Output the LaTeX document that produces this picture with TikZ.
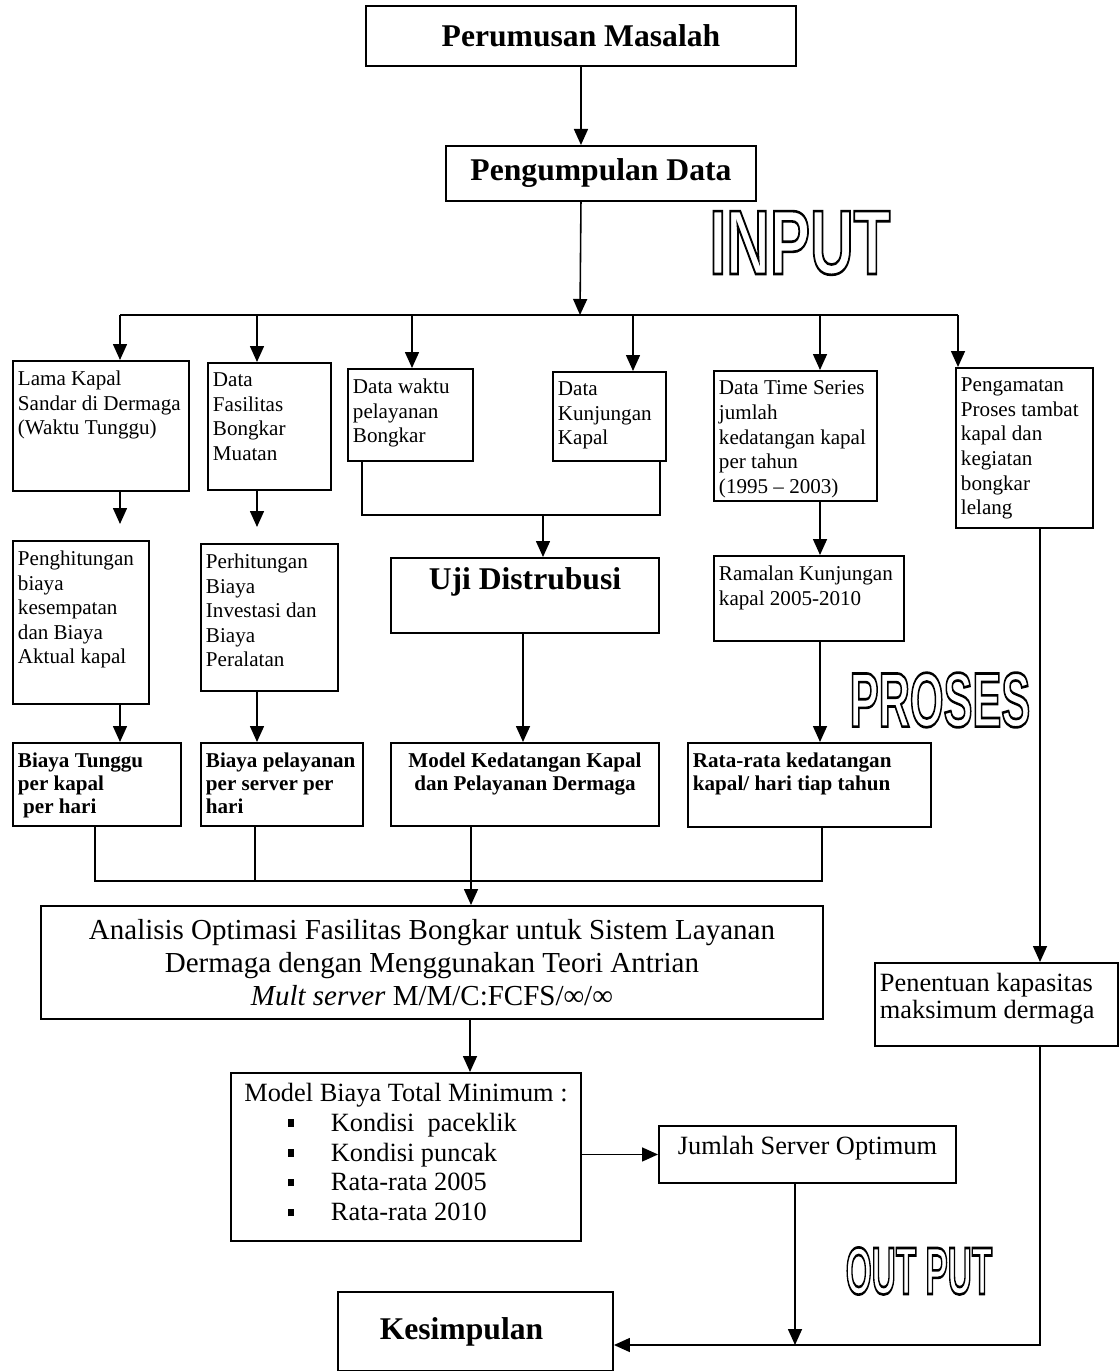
\documentclass[tikz,border=0pt]{standalone}
\usepackage{fontspec}
\setmainfont{Liberation Serif}
\newfontfamily\outfont{Liberation Sans}
\usetikzlibrary{arrows.meta}
\newdimen\pxu \pxu=0.02cm
\newcommand{\sqb}{\makebox[43\pxu][l]{\rule[2.5pt]{3.6pt}{4.2pt}}}
% hollow (stroked) lettering
\newcommand{\outword}[3]{\scalebox{#2}[1]{\fontsize{#1}{#1}\selectfont
    \special{pdf:literal direct q 1 Tr 1.5 w 0 G}#3\special{pdf:literal direct Q}}}

\begin{document}
\begin{tikzpicture}[x=0.02cm, y=-0.02cm,
    box/.style={draw, line width=1.1pt, anchor=north west, inner sep=0pt},
    cbox/.style n args={2}{box, minimum width=#1\pxu, minimum height=#2\pxu, align=center},
    panel/.style n args={3}{box, minimum width=#1\pxu, minimum height=#2\pxu,
        font=\fontsize{12}{14}\selectfont,
        execute at begin node={\begin{minipage}[t][\dimexpr#2\pxu-8\pxu\relax][t]{\dimexpr#1\pxu-10\pxu\relax}\vspace*{6\pxu}#3},
        execute at end node={\endgraf\end{minipage}}},
    tbox/.style 2 args={panel={#1}{#2}{\raggedright}},
    ctbox/.style 2 args={panel={#1}{#2}{\centering}},
    big/.style={font=\fontsize{18}{21}\selectfont\bfseries},
    arrow/.style={line width=0.9pt, -{Triangle[length=3.2mm,width=2.8mm]}},
    line/.style={line width=0.9pt},
    outtext/.style={font=\outfont\bfseries, inner sep=0pt}]
    \useasboundingbox (0,0) rectangle (1118,1371);

    % top
    \node[cbox={430}{60}, big] (per) at (365,5) {Perumusan Masalah};
    \node[cbox={310}{55}, big] (kumpul) at (445,145) {Pengumpulan Data};
    \node[outtext] (inlbl) at (800,243) {\outword{52}{0.66}{INPUT}};

    % data
    \node[tbox={176}{130}] (lama) at (12,360) {Lama Kapal\\Sandar di Dermaga\\(Waktu Tunggu)};
    \node[tbox={123}{127}] (fasil) at (207,362) {Data\\Fasilitas\\Bongkar\\Muatan};
    \node[tbox={125}{92}] (waktu) at (347,368) {Data waktu\\pelayanan\\Bongkar};
    \node[tbox={113}{89}] (kunjung) at (552,371) {Data\\Kunjungan\\Kapal};
    \node[tbox={163}{130}] (series) at (713,370) {Data Time Series\\jumlah\\kedatangan kapal\\per tahun\\(1995 -- 2003)};
    \node[tbox={137}{160}] (amat) at (955,367) {Pengamatan\\Proses tambat\\kapal dan\\kegiatan\\bongkar\\lelang};

    % proses
    \node[tbox={136}{163}] (hitung) at (12,540) {Penghitungan\\biaya\\kesempatan\\dan Biaya\\Aktual kapal};
    \node[tbox={137}{147}] (invest) at (200,543) {Perhitungan\\Biaya\\Investasi dan\\Biaya\\Peralatan};
    \node[ctbox={268}{75}, big] (uji) at (390,557) {Uji Distrubusi};
    \node[tbox={190}{85}] (ramal) at (713,555) {Ramalan Kunjungan\\kapal 2005-2010};
    \node[outtext] (proslbl) at (940,700) {\outword{44}{0.56}{PROSES}};

    \node[tbox={168}{83}, font=\fontsize{12}{13}\selectfont\bfseries] (tunggu) at (12,742) {Biaya Tunggu\\per kapal\\\ per hari};
    \node[tbox={162}{83}, font=\fontsize{12}{13}\selectfont\bfseries] (layan) at (200,742) {Biaya pelayanan\\per server per\\hari};
    \node[ctbox={268}{83}, font=\fontsize{12}{13}\selectfont\bfseries] (datang) at (390,742) {Model Kedatangan Kapal\\dan Pelayanan Dermaga};
    \node[tbox={243}{84}, font=\fontsize{12}{13}\selectfont\bfseries] (rata) at (687,742) {Rata-rata kedatangan\\kapal/ hari tiap tahun};

    \node[cbox={782}{113}, font=\fontsize{16.5}{18.8}\selectfont] (analisis) at (40,905)
        {Analisis Optimasi Fasilitas Bongkar untuk Sistem Layanan\\
         Dermaga dengan Menggunakan Teori Antrian\\
         \textit{Mult server} M/M/C:FCFS/∞/∞};
    \node[tbox={243}{83}, font=\fontsize{15}{15.5}\selectfont] (kapasitas) at (874,962) {Penentuan kapasitas\\maksimum dermaga};

    % output
    \node[tbox={350}{168}, font=\fontsize{15}{17}\selectfont] (biaya) at (230,1072)
        {{\centering Model Biaya Total Minimum :\par}
         \hspace*{52\pxu}\sqb Kondisi\ \ paceklik\\
         \hspace*{52\pxu}\sqb Kondisi puncak\\
         \hspace*{52\pxu}\sqb Rata-rata 2005\\
         \hspace*{52\pxu}\sqb Rata-rata 2010};
    \node[ctbox={297}{57}, font=\fontsize{15}{17}\selectfont] (server) at (658,1125) {Jumlah Server Optimum};
    \node[outtext] (outlbl) at (919,1271) {\outword{38}{0.5}{OUT PUT}};
    \node[cbox={275}{79}, big] (simpul) at (337,1291) {Kesimpulan\hspace*{28\pxu}};

    % connectors
    \draw[arrow] (per.south) -- (per.south |- kumpul.north);
    \draw[arrow] (per.south |- kumpul.south) -- (580,315);
    \draw[line] (120,315) -- (958,315);
    \foreach \n/\x in {lama/120, fasil/257, waktu/412, kunjung/633, series/820, amat/958}
        \draw[arrow] (\x,315) -- (\x,0 |- \n.north);

    \draw[arrow, shorten >=16\pxu] (120,0 |- lama.south) -- (120,0 |- hitung.north);
    \draw[arrow, shorten >=16\pxu] (257,0 |- fasil.south) -- (257,0 |- invest.north);
    \draw[line] (362,0 |- waktu.south) |- (660,515) -- (660,0 |- kunjung.south);
    \draw[arrow] (543,515) -- (543,0 |- uji.north);
    \draw[arrow] (820,0 |- series.south) -- (820,0 |- ramal.north);
    \draw[arrow] (1040,0 |- amat.south) -- (1040,0 |- kapasitas.north);

    \draw[arrow] (120,0 |- hitung.south) -- (120,0 |- tunggu.north);
    \draw[arrow] (257,0 |- invest.south) -- (257,0 |- layan.north);
    \draw[arrow] (523,0 |- uji.south) -- (523,0 |- datang.north);
    \draw[arrow] (820,0 |- ramal.south) -- (820,0 |- rata.north);

    \draw[line] (95,0 |- tunggu.south) |- (822,881) -- (822,0 |- rata.south);
    \draw[line] (255,0 |- layan.south) -- (255,881);
    \draw[arrow] (471,0 |- datang.south) -- (471,0 |- analisis.north);
    \draw[arrow] (470,0 |- analisis.south) -- (470,0 |- biaya.north);
    \draw[arrow] (biaya.east |- server.west) -- (server.west);
    \draw[arrow] (795,0 |- server.south) -- (795,1345);
    \draw[arrow] (1040,0 |- kapasitas.south) |- (simpul.east |- 0,1345);
\end{tikzpicture}
\end{document}
